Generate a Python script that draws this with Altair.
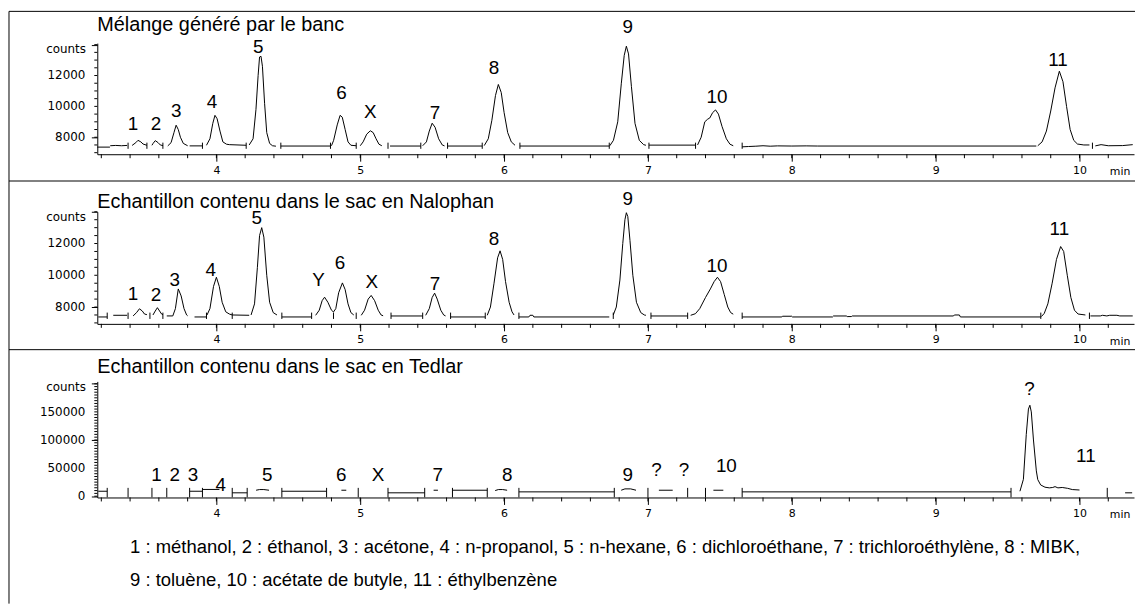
import altair as alt
import pandas as pd

# ------------------------------------------------------------------ data
X_DOMAIN = [3.172, 10.379]
TIME_TICKS = [3.2, 3.4, 3.6, 3.8, 4.0, 4.2, 4.4, 4.6, 4.8, 5.0, 5.2, 5.4, 5.6, 5.8,
              6.0, 6.2, 6.4, 6.6, 6.8, 7.0, 7.2, 7.4, 7.6, 7.8, 8.0, 8.2, 8.4, 8.6,
              8.8, 9.0, 9.2, 9.4, 9.6, 9.8, 10.0, 10.2]
TIME_LABELS = [4, 5, 6, 7, 8, 9, 10]

TITLES = ["Mélange généré par le banc",
          "Echantillon contenu dans le sac en Nalophan",
          "Echantillon contenu dans le sac en Tedlar"]

LEGEND_LINES = [
    "1 : méthanol, 2 : éthanol, 3 : acétone, 4 : n-propanol, 5 : n-hexane, 6 : dichloroéthane, 7 : trichloroéthylène, 8 : MIBK,",
    "9 : toluène, 10 : acétate de butyle, 11 : éthylbenzène",
]

# panel 1 : trace segments (time min, counts)
BANC_TRACE = [
    [(3.172, 7360), (3.26, 7360)],
    [(3.262, 7450), (3.30, 7470), (3.34, 7450), (3.379, 7470)],
    [(3.414, 7470), (3.44, 7650), (3.455, 7800), (3.475, 7700), (3.49, 7560), (3.517, 7480)],
    [(3.552, 7480), (3.56, 7600), (3.575, 7780), (3.595, 7650), (3.61, 7500), (3.628, 7460)],
    [(3.662, 7440), (3.685, 7650), (3.705, 8300), (3.72, 8780), (3.735, 8500), (3.75, 8000), (3.77, 7600), (3.80, 7450)],
    [(3.814, 7440), (3.903, 7440)],
    [(3.931, 7480), (3.955, 7900), (3.975, 8900), (3.99, 9420), (4.005, 9200), (4.025, 8400), (4.045, 7700), (4.07, 7550), (4.09, 7520), (4.207, 7480)],
    [(4.228, 7500), (4.255, 7900), (4.275, 9800), (4.29, 12000), (4.30, 13200), (4.31, 13250), (4.32, 12600), (4.335, 10200), (4.35, 8300), (4.37, 7600), (4.39, 7450), (4.414, 7420)],
    [(4.448, 7430), (4.793, 7430)],
    [(4.80, 7450), (4.815, 7800), (4.84, 8800), (4.86, 9420), (4.875, 9300), (4.895, 8500), (4.915, 7700), (4.935, 7480), (4.972, 7450)],
    [(5.0, 7450), (5.02, 7700), (5.045, 8200), (5.07, 8420), (5.09, 8300), (5.11, 7900), (5.13, 7550), (5.15, 7450)],
    [(5.207, 7430), (5.421, 7430)],
    [(5.434, 7450), (5.46, 7700), (5.48, 8400), (5.50, 8910), (5.52, 8650), (5.545, 7900), (5.57, 7500), (5.586, 7440)],
    [(5.607, 7430), (5.848, 7430)],
    [(5.862, 7460), (5.89, 7900), (5.915, 9100), (5.94, 10700), (5.96, 11420), (5.98, 10900), (6.0, 9600), (6.025, 8300), (6.05, 7700), (6.076, 7480)],
    [(6.11, 7430), (6.731, 7430)],
    [(6.735, 7450), (6.76, 7800), (6.79, 9000), (6.815, 11500), (6.835, 13300), (6.85, 13900), (6.865, 13400), (6.885, 11300), (6.91, 8900), (6.94, 7800), (6.97, 7520), (6.986, 7480)],
    [(7.007, 7490), (7.331, 7490)],
    [(7.345, 7500), (7.37, 8000), (7.395, 9000), (7.415, 9170), (7.43, 9250), (7.45, 9600), (7.47, 9770), (7.49, 9500), (7.515, 8700), (7.545, 7900), (7.57, 7550), (7.593, 7450)],
    [(7.655, 7380), (7.70, 7400), (7.75, 7420), (7.80, 7450), (7.85, 7420), (7.90, 7440), (8.00, 7430), (8.10, 7440), (8.18, 7430), (9.70, 7430)],
    [(9.71, 7450), (9.74, 7700), (9.77, 8400), (9.80, 9700), (9.83, 11200), (9.86, 12280), (9.885, 11600), (9.91, 10000), (9.935, 8500), (9.96, 7800), (9.986, 7560), (10.03, 7500), (10.069, 7500)],
    [(10.11, 7440), (10.15, 7520), (10.20, 7450), (10.30, 7460), (10.37, 7520)],
]
BANC_MARKS = [3.386, 3.517, 3.628, 3.903, 4.207, 4.448, 4.793, 4.972, 5.193, 5.421,
              5.607, 5.848, 6.11, 6.731, 7.007, 7.331, 7.655, 10.09]
BANC_LABELS = [("1", 3.42, 8850), ("2", 3.58, 8850), ("3", 3.72, 9710), ("4", 3.97, 10290),
               ("5", 4.29, 13840), ("6", 4.87, 10840), ("X", 5.07, 9650), ("7", 5.52, 9600),
               ("8", 5.93, 12490), ("9", 6.86, 15130), ("10", 7.48, 10610), ("11", 9.85, 13030)]

# panel 2
NALO_TRACE = [
    [(3.179, 7375), (3.241, 7375)],
    [(3.283, 7480), (3.379, 7480)],
    [(3.421, 7440), (3.445, 7650), (3.465, 7890), (3.485, 7750), (3.50, 7560), (3.517, 7520)],
    [(3.559, 7500), (3.575, 7750), (3.59, 7960), (3.605, 7750), (3.62, 7550), (3.628, 7520)],
    [(3.655, 7440), (3.697, 7440), (3.715, 7900), (3.735, 9140), (3.755, 8700), (3.775, 7900), (3.793, 7500), (3.80, 7450)],
    [(3.848, 7375), (3.931, 7375)],
    [(3.935, 7500), (3.955, 7900), (3.98, 9300), (4.00, 9875), (4.02, 9300), (4.04, 8300), (4.065, 7700), (4.09, 7560), (4.11, 7500), (4.228, 7480)],
    [(4.241, 7500), (4.265, 8200), (4.285, 10500), (4.30, 12500), (4.315, 13000), (4.33, 12400), (4.35, 10000), (4.37, 8300), (4.395, 7650), (4.421, 7500)],
    [(4.455, 7375), (4.662, 7375)],
    [(4.69, 7480), (4.715, 7800), (4.735, 8400), (4.752, 8620), (4.775, 8300), (4.80, 7800), (4.814, 7690), (4.83, 7900), (4.85, 8900), (4.876, 9520), (4.895, 9100), (4.915, 8200), (4.935, 7650), (4.955, 7500)],
    [(5.007, 7480), (5.03, 7800), (5.055, 8500), (5.076, 8730), (5.10, 8400), (5.125, 7800), (5.145, 7500), (5.159, 7450)],
    [(5.214, 7437), (5.434, 7437)],
    [(5.455, 7480), (5.48, 7900), (5.50, 8600), (5.517, 8875), (5.535, 8500), (5.56, 7800), (5.58, 7500), (5.593, 7440)],
    [(5.628, 7375), (5.869, 7375)],
    [(5.883, 7480), (5.905, 8000), (5.93, 9500), (5.955, 11100), (5.972, 11540), (5.99, 11000), (6.01, 9600), (6.035, 8300), (6.055, 7700), (6.069, 7500)],
    [(6.103, 7375), (6.172, 7375), (6.18, 7480), (6.20, 7480), (6.207, 7375), (6.731, 7375)],
    [(6.759, 7500), (6.78, 8000), (6.805, 9700), (6.825, 12000), (6.84, 13500), (6.85, 13940), (6.86, 13700), (6.875, 12200), (6.895, 10000), (6.92, 8300), (6.95, 7650), (6.975, 7500), (6.986, 7480)],
    [(7.021, 7437), (7.276, 7437)],
    [(7.297, 7480), (7.33, 7580), (7.36, 7900), (7.40, 8600), (7.434, 9140), (7.46, 9600), (7.483, 9875), (7.505, 9600), (7.53, 8800), (7.555, 8000), (7.575, 7650), (7.593, 7550)],
    [(7.655, 7375), (7.931, 7375), (7.935, 7420), (8.0, 7420), (8.005, 7375), (8.283, 7375), (8.29, 7437), (8.379, 7437), (8.385, 7400), (8.414, 7400), (8.42, 7437), (9.124, 7437), (9.13, 7500), (9.165, 7500), (9.172, 7375), (9.731, 7375)],
    [(9.735, 7400), (9.755, 7600), (9.78, 8200), (9.81, 9500), (9.84, 11000), (9.869, 11810), (9.89, 11500), (9.915, 10000), (9.94, 8600), (9.965, 7800), (9.99, 7560), (10.041, 7500)],
    [(10.076, 7440), (10.145, 7440), (10.16, 7480), (10.19, 7440), (10.21, 7480), (10.26, 7480), (10.28, 7440), (10.37, 7440)],
]
NALO_MARKS = [3.241, 3.386, 3.538, 3.628, 3.931, 4.11, 4.455, 4.662, 4.814, 4.972, 5.214,
              5.434, 5.628, 5.869, 6.103, 6.759, 7.021, 7.276, 7.655, 9.731, 10.069]
NALO_LABELS = [("1", 3.42, 8790), ("2", 3.58, 8730), ("3", 3.71, 9730), ("4", 3.96, 10360),
               ("5", 4.28, 13580), ("Y", 4.71, 9670), ("6", 4.86, 10770), ("X", 5.08, 9580),
               ("7", 5.52, 9420), ("8", 5.93, 12290), ("9", 6.86, 14830), ("10", 7.48, 10560),
               ("11", 9.86, 12920)]

# panel 3
TEDL_TRACE = [
    [(3.179, 8800), (3.241, 8800)],
    [(3.814, 8800), (3.903, 8800)],
    [(3.903, 12000), (4.021, 12000)],
    [(4.11, 6000), (4.214, 6000)],
    [(4.276, 10600), (4.30, 11800), (4.33, 11800), (4.366, 10600)],
    [(4.455, 8800), (4.766, 8800)],
    [(4.869, 10600), (4.903, 10600)],
    [(5.193, 6000), (5.448, 6000)],
    [(5.51, 10600), (5.54, 10600)],
    [(5.641, 10600), (5.883, 10600)],
    [(5.938, 10000), (5.96, 11800), (5.99, 11800), (6.021, 10600)],
    [(6.103, 7700), (6.766, 7700)],
    [(6.814, 10600), (6.84, 13000), (6.88, 13000), (6.917, 10600)],
    [(7.076, 10600), (7.172, 10600)],
    [(7.455, 10600), (7.524, 10600)],
    [(7.655, 7700), (9.524, 7700)],
    [(9.586, 8800), (9.61, 30000), (9.63, 110000), (9.645, 155000), (9.655, 161800), (9.665, 150000),
     (9.68, 100000), (9.70, 45000), (9.71, 29500), (9.73, 20000), (9.76, 16000), (9.79, 14800),
     (9.814, 15500), (9.83, 17000), (9.85, 14800), (9.88, 15500), (9.917, 14000), (9.95, 11800), (10.0, 11000)],
    [(10.317, 6000), (10.366, 6000)],
]
TEDL_MARKS = [3.241, 3.386, 3.552, 3.655, 3.814, 3.903, 4.11, 4.214, 4.455, 4.766, 4.986,
              5.193, 5.448, 5.641, 5.883, 6.103, 6.766, 7.0, 7.276, 7.4, 7.655, 9.524, 10.193]
TEDL_LABELS = [("1", 3.584, 38300), ("2", 3.71, 38300), ("3", 3.837, 38300), ("4", 4.03, 20600),
               ("5", 4.354, 38300), ("6", 4.867, 38300), ("X", 5.124, 38300), ("7", 5.538, 38300),
               ("8", 6.021, 38300), ("9", 6.86, 38300), ("?", 7.06, 47100), ("?", 7.25, 47100),
               ("10", 7.545, 52900), ("?", 9.653, 191300), ("11", 10.044, 70600)]

# y-axis tick values (major = long tick, labelled ones listed separately)
BANC_MAJOR = [8000, 10000, 12000, 14000]
BANC_YLAB = [8000, 10000, 12000]
BANC_MINOR = list(range(7000, 14001, 500))
NALO_MAJOR = [8000, 10000, 12000, 14000]
NALO_YLAB = [8000, 10000, 12000]
NALO_MINOR = list(range(7000, 14001, 500))
TEDL_MAJOR = [0, 50000, 100000, 150000, 200000]
TEDL_YLAB = [0, 50000, 100000, 150000]
TEDL_MINOR = list(range(0, 200001, 5000))

# ------------------------------------------------------------------ layout / style
W = 1045
TXT_FONT = "Liberation Sans"
AX_FONT = "DejaVu Sans"


def seg_df(segments):
    rows = []
    for s, seg in enumerate(segments):
        for i, (t, v) in enumerate(seg):
            rows.append({"seg": s, "i": i, "t": t, "v": v})
    return pd.DataFrame(rows)


def one():
    return pd.DataFrame({"k": [0]})


def hrule(y, x0=-89, x1=W + 1):
    return alt.Chart(one()).mark_rule(color="black", strokeWidth=1).encode(
        x=alt.value(x0), x2=alt.value(x1), y=alt.value(y))


def text_at(s, x, y, size, align="left"):
    return alt.Chart(pd.DataFrame({"s": [s]})).mark_text(
        font=TXT_FONT, fontSize=size, align=align, baseline="middle", color="black"
    ).encode(x=alt.value(x), y=alt.value(y), text="s:N")


def panel(trace, marks, mk_lo, mk_hi, labels, title, title_y, y_domain, y_major,
          y_lab, y_minor, height, extras):
    x_axis = alt.Axis(values=TIME_LABELS, format="d", tickSize=7,
                      labelPadding=3, labelOverlap=False, labelFlush=False)
    y_axis = alt.Axis(values=y_major, labels=False, tickSize=6,
                      title="counts", titleAngle=0, titleAlign="right",
                      titleBaseline="middle", titleX=-12, titleY=5)
    xs = alt.Scale(domain=X_DOMAIN, nice=False, zero=False)
    ys = alt.Scale(domain=y_domain, nice=False, zero=False)

    line = alt.Chart(seg_df(trace)).mark_line(color="black", strokeWidth=1).encode(
        x=alt.X("t:Q", scale=xs, axis=x_axis, title=None),
        y=alt.Y("v:Q", scale=ys, axis=y_axis),
        detail="seg:N", order="i:Q")
    xminor = alt.Chart(pd.DataFrame({"t": TIME_TICKS})).mark_rule(
        color="black", strokeWidth=1).encode(
        x=alt.X("t:Q", title=None), y=alt.value(height), y2=alt.value(height + 4))
    yminor = alt.Chart(pd.DataFrame({"v": y_minor})).mark_rule(
        color="black", strokeWidth=1).encode(
        y=alt.Y("v:Q", title="counts"), x=alt.value(-3), x2=alt.value(0))
    ylab = alt.Chart(pd.DataFrame({"v": y_lab})).mark_text(
        font=AX_FONT, fontSize=12, align="right", baseline="middle", color="black").encode(
        y=alt.Y("v:Q", title="counts"), x=alt.value(-12), text=alt.Text("v:Q", format="d"))
    mk = alt.Chart(pd.DataFrame({"t": marks, "lo": mk_lo, "hi": mk_hi})).mark_rule(
        color="black", strokeWidth=1).encode(
        x=alt.X("t:Q", title=None), y=alt.Y("lo:Q", title="counts"), y2="hi:Q")
    lab = alt.Chart(pd.DataFrame(labels, columns=["lab", "t", "v"])).mark_text(
        font=TXT_FONT, fontSize=19, baseline="middle", align="center", color="black").encode(
        x=alt.X("t:Q", title=None), y=alt.Y("v:Q", title="counts"), text="lab:N")
    ttl = text_at(title, 0, title_y, 20)
    minlab = alt.Chart(pd.DataFrame({"s": ["min"]})).mark_text(
        font=AX_FONT, fontSize=11, align="center", baseline="middle", color="black").encode(
        x=alt.value(1031), y=alt.value(height + 18), text="s:N")
    return alt.layer(line, xminor, yminor, ylab, mk, lab, ttl, minlab, *extras).properties(
        width=W, height=height)


p1 = panel(BANC_TRACE, BANC_MARKS, 7250, 7650, BANC_LABELS, TITLES[0], -18,
           [6900, 14100], BANC_MAJOR, BANC_YLAB, BANC_MINOR, 112, [hrule(-32)])
p2 = panel(NALO_TRACE, NALO_MARKS, 7250, 7650, NALO_LABELS, TITLES[1], -10,
           [6940, 14000], NALO_MAJOR, NALO_YLAB, NALO_MINOR, 113, [hrule(-31)])
legend = [text_at(LEGEND_LINES[0], 33, 167, 18.6), text_at(LEGEND_LINES[1], 33, 200, 18.6)]
border = alt.Chart(one()).mark_rule(color="black", strokeWidth=1).encode(
    x=alt.value(-89), y=alt.value(-373), y2=alt.value(224))
p3 = panel(TEDL_TRACE, TEDL_MARKS, -2000, 14800, TEDL_LABELS, TITLES[2], -14,
           [-2300, 204200], TEDL_MAJOR, TEDL_YLAB, TEDL_MINOR, 117,
           [hrule(-32), border] + legend)

chart = alt.vconcat(p1, p2, p3, spacing=58, bounds="flush").properties(
    padding=0, background="white"
).configure_view(strokeOpacity=0).configure_axis(
    grid=False, domainColor="black", tickColor="black", labelColor="black",
    labelFont=AX_FONT, labelFontSize=11, titleFont=AX_FONT, titleFontSize=12,
    titleFontWeight="normal", titleColor="black", domainWidth=1, tickWidth=1)

chart.save("out.html", embed_options={"renderer": "svg", "actions": False})
